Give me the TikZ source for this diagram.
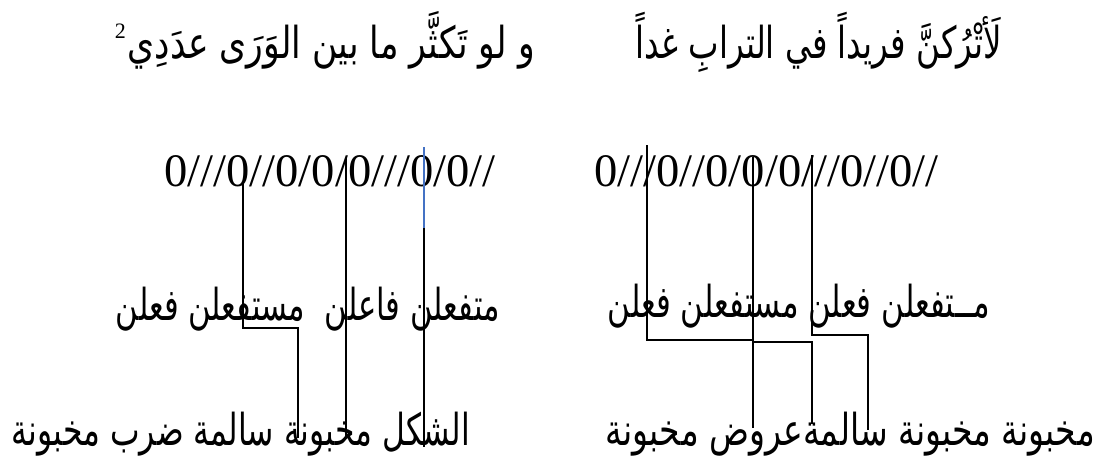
\documentclass[tikz,border=0pt]{standalone}
\usepackage{fontspec}
\usepackage{graphicx}
\setmainfont{Liberation Serif}
\newfontfamily\arabicfont[Script=Arabic]{DejaVu Sans}
\TeXXeTstate=1
\definecolor{lineblue}{RGB}{68,114,196}
\newcommand{\artext}[2]{\resizebox{#1pt}{\height}{\fontsize{44}{50}\selectfont\arabicfont #2}}
\begin{document}
\begin{tikzpicture}[x=1pt,y=-1pt,
  ar/.style={inner sep=0pt, anchor=base east},
  dig/.style={inner sep=0pt, anchor=base west, font=\fontsize{46.6}{54}\selectfont},
  ln/.style={line width=2pt, black},
  blueln/.style={line width=2pt, lineblue}]
\useasboundingbox (0,0) rectangle (1099,458);
\fill[white] (0,0) rectangle (1099,458);

% verse
\node[ar] (tl) at (535,58) {\artext{407}{\beginR و لو تَكثَّر ما بين الوَرَى عدَدِي\endR}};
\node[inner sep=0pt, anchor=base east, font=\fontsize{22}{24}\selectfont] (sup) at (126,38) {2};
\node[ar] (tr) at (1002,58) {\artext{366}{\beginR لَأتْرُكنَّ فريداً في الترابِ غداً\endR}};

% scansion
\node[dig] (dl) at (164,186) {0///0//0/0/0///0/0//};
\node[dig] (dr) at (594,186) {0///0//0/0/0///0//0//};

% feet
\node[ar] (ml) at (500,320) {\artext{384}{\beginR متفعلن فاعلن~~مستفعلن فعلن\endR}};
\node[ar] (mr) at (990,317) {\artext{382}{\beginR مــتفعلن فعلن مستفعلن فعلن\endR}};

% names
\node[ar] (bl) at (470,445) {\artext{458}{\beginR الشكل مخبونة سالمة ضرب مخبونة\endR}};
\node[ar] (br) at (1095,445) {\artext{489}{\beginR مخبونة مخبونة سالمةعروض مخبونة\endR}};

% left connectors
\coordinate (l1t) at (242.7,182);
\coordinate (l1m) at (242.7,328);
\coordinate (l1n) at (298,328);
\coordinate (l1b) at (298,438);
\coordinate (l2t) at (346,158);
\coordinate (l2b) at (346,437);
\coordinate (l3t) at (424,147);
\coordinate (l3u) at (424,228);
\coordinate (l3b) at (424,447);
\draw[ln] (l1t) -- (l1m) -- (l1n) -- (l1b);
\draw[ln] (l2t) -- (l2b);
\draw[ln] (l3t) -- (l3b);
\draw[blueln] (l3t) -- (l3u);

% right connectors
\coordinate (r1t) at (646.7,145);
\coordinate (r1m) at (646.7,340);
\coordinate (r1n) at (752.7,340);
\coordinate (r1b) at (752.7,428);
\coordinate (r2t) at (752.7,157);
\coordinate (r2m) at (752.7,342);
\coordinate (r2n) at (811.5,342);
\coordinate (r2b) at (811.5,424);
\coordinate (r3t) at (811.7,155);
\coordinate (r3m) at (811.7,335);
\coordinate (r3n) at (868,335);
\coordinate (r3b) at (868,430);
\draw[ln] (r1t) -- (r1m) -- (r1n) -- (r1b);
\draw[ln] (r2t) -- (r2m) -- (r2n) -- (r2b);
\draw[ln] (r3t) -- (r3m) -- (r3n) -- (r3b);
\end{tikzpicture}
\end{document}
